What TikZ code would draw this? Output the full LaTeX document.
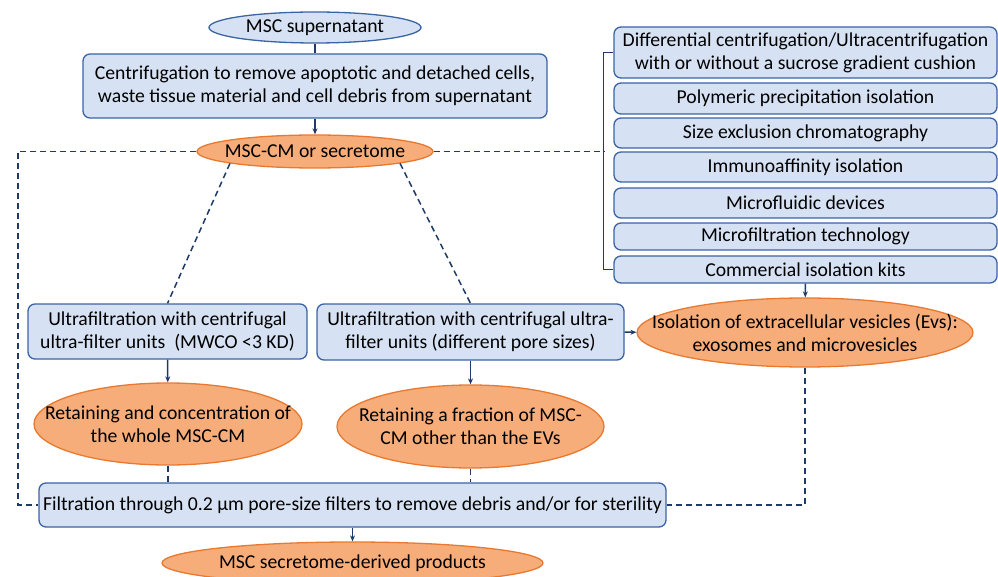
\documentclass[tikz,border=0pt]{standalone}
\usepackage{fontspec}
\setmainfont{Carlito}
\usetikzlibrary{shapes.geometric,arrows.meta}
\definecolor{boxfill}{HTML}{D6E2F3}
\definecolor{boxline}{HTML}{3A64A4}
\definecolor{ellfill}{HTML}{F7AD7A}
\definecolor{ellline}{HTML}{E8792F}
\definecolor{linkcol}{HTML}{1F3A68}
\tikzset{
  procbox/.style={rectangle, rounded corners=7pt, draw=boxline, fill=boxfill, line width=1.3pt, align=center, inner sep=0pt, font=\fontsize{19.7}{23}\selectfont},
  blueoval/.style={ellipse, draw=boxline, fill=boxfill, line width=1.3pt, align=center, inner xsep=-60pt, inner ysep=-20pt, font=\fontsize{19.7}{23}\selectfont},
  prodoval/.style={ellipse, draw=ellline, fill=ellfill, line width=1.3pt, align=center, inner xsep=-60pt, inner ysep=-20pt, font=\fontsize{19.7}{23}\selectfont},
  link/.style={draw=linkcol, line width=1.5pt},
  linkarr/.style={link, -{Stealth[length=6pt,width=5pt]}},
  dashlink/.style={link, dash pattern=on 6pt off 4pt},
}
\begin{document}
\begin{tikzpicture}[x=1pt,y=-1pt]
    \useasboundingbox (0,0) rectangle (998,577);
    % main column
    \node[blueoval, minimum width=212pt, minimum height=31pt] (sup) at (315,27.5) {MSC supernatant};
    \node[procbox, minimum width=464pt, minimum height=64pt] (centr) at (315,86) {Centrifugation to remove apoptotic and detached cells,\\waste tissue material and cell debris from supernatant};
    \node[prodoval, minimum width=236pt, minimum height=33pt] (cm) at (315,151.5) {MSC-CM or secretome};
    % right list of isolation methods
    \node[procbox, minimum width=383pt, minimum height=51pt] (diff) at (805.5,52.5) {Differential centrifugation/Ultracentrifugation\\with or without a sucrose gradient cushion};
    \node[procbox, minimum width=383pt, minimum height=31pt] (poly) at (805.5,98.5) {Polymeric precipitation isolation};
    \node[procbox, minimum width=383pt, minimum height=30pt] (sec) at (805.5,133) {Size exclusion chromatography};
    \node[procbox, minimum width=383pt, minimum height=30pt] (immu) at (805.5,167) {Immunoaffinity isolation};
    \node[procbox, minimum width=383pt, minimum height=30pt] (mflu) at (805.5,203) {Microfluidic devices};
    \node[procbox, minimum width=383pt, minimum height=27pt] (mfil) at (805.5,236.5) {Microfiltration technology};
    \node[procbox, minimum width=383pt, minimum height=27pt] (kits) at (805.5,269.5) {Commercial isolation kits};
    \coordinate (brk) at (604,151.5);
    % ultrafiltration branches
    \node[procbox, minimum width=279pt, minimum height=55pt] (uleft) at (167.5,331.5) {Ultrafiltration with centrifugal\\ultra-filter units~ (MWCO <3 KD)};
    \node[procbox, minimum width=307pt, minimum height=56pt] (umid) at (470.5,332) {Ultrafiltration with centrifugal ultra-\\filter units (different pore sizes)};
    \node[prodoval, minimum width=336pt, minimum height=69pt] (iso) at (805,332.5) {Isolation of extracellular vesicles (Evs):\\exosomes and microvesicles};
    \node[prodoval, minimum width=268pt, minimum height=82pt] (whole) at (168,424) {Retaining and concentration of\\the whole MSC-CM};
    \node[prodoval, minimum width=267pt, minimum height=83pt] (frac) at (470.5,426.5) {Retaining a fraction of MSC-\\CM other than the EVs};
    % filtration and products
    \node[procbox, minimum width=627pt, minimum height=44pt] (filt) at (352.5,505) {Filtration through 0.2 µm pore-size filters to remove debris and/or for sterility};
    \node[prodoval, minimum width=381pt, minimum height=42pt] (prod) at (352.5,563) {MSC secretome-derived products};
    \coordinate (lrail) at (18,0);
    % connectors
    \draw[link] (sup) -- (centr);
    \draw[linkarr] (centr) -- (cm);
    \draw[dashlink] (cm.188) -- (uleft.north);
    \draw[dashlink] (cm.352) -- (umid.north);
    \draw[dashlink] (cm.east) -- (brk);
    \draw[link] (diff.west) -- ++(-10,0) |- (kits.west);
    \draw[linkarr] (kits) -- (iso);
    \draw[linkarr] (umid) -- (iso);
    \draw[linkarr] (uleft) -- (whole);
    \draw[linkarr] (umid) -- (frac);
    \draw[dashlink] (whole.south) -- (whole.south |- filt.north);
    \draw[dashlink] (frac.south) -- (frac.south |- filt.north);
    \draw[dashlink] (cm.west) -| (lrail |- filt.west) -- (filt.west);
    \draw[dashlink] (iso.south) |- (filt.east);
    \draw[linkarr] (filt) -- (prod);
\end{tikzpicture}
\end{document}
